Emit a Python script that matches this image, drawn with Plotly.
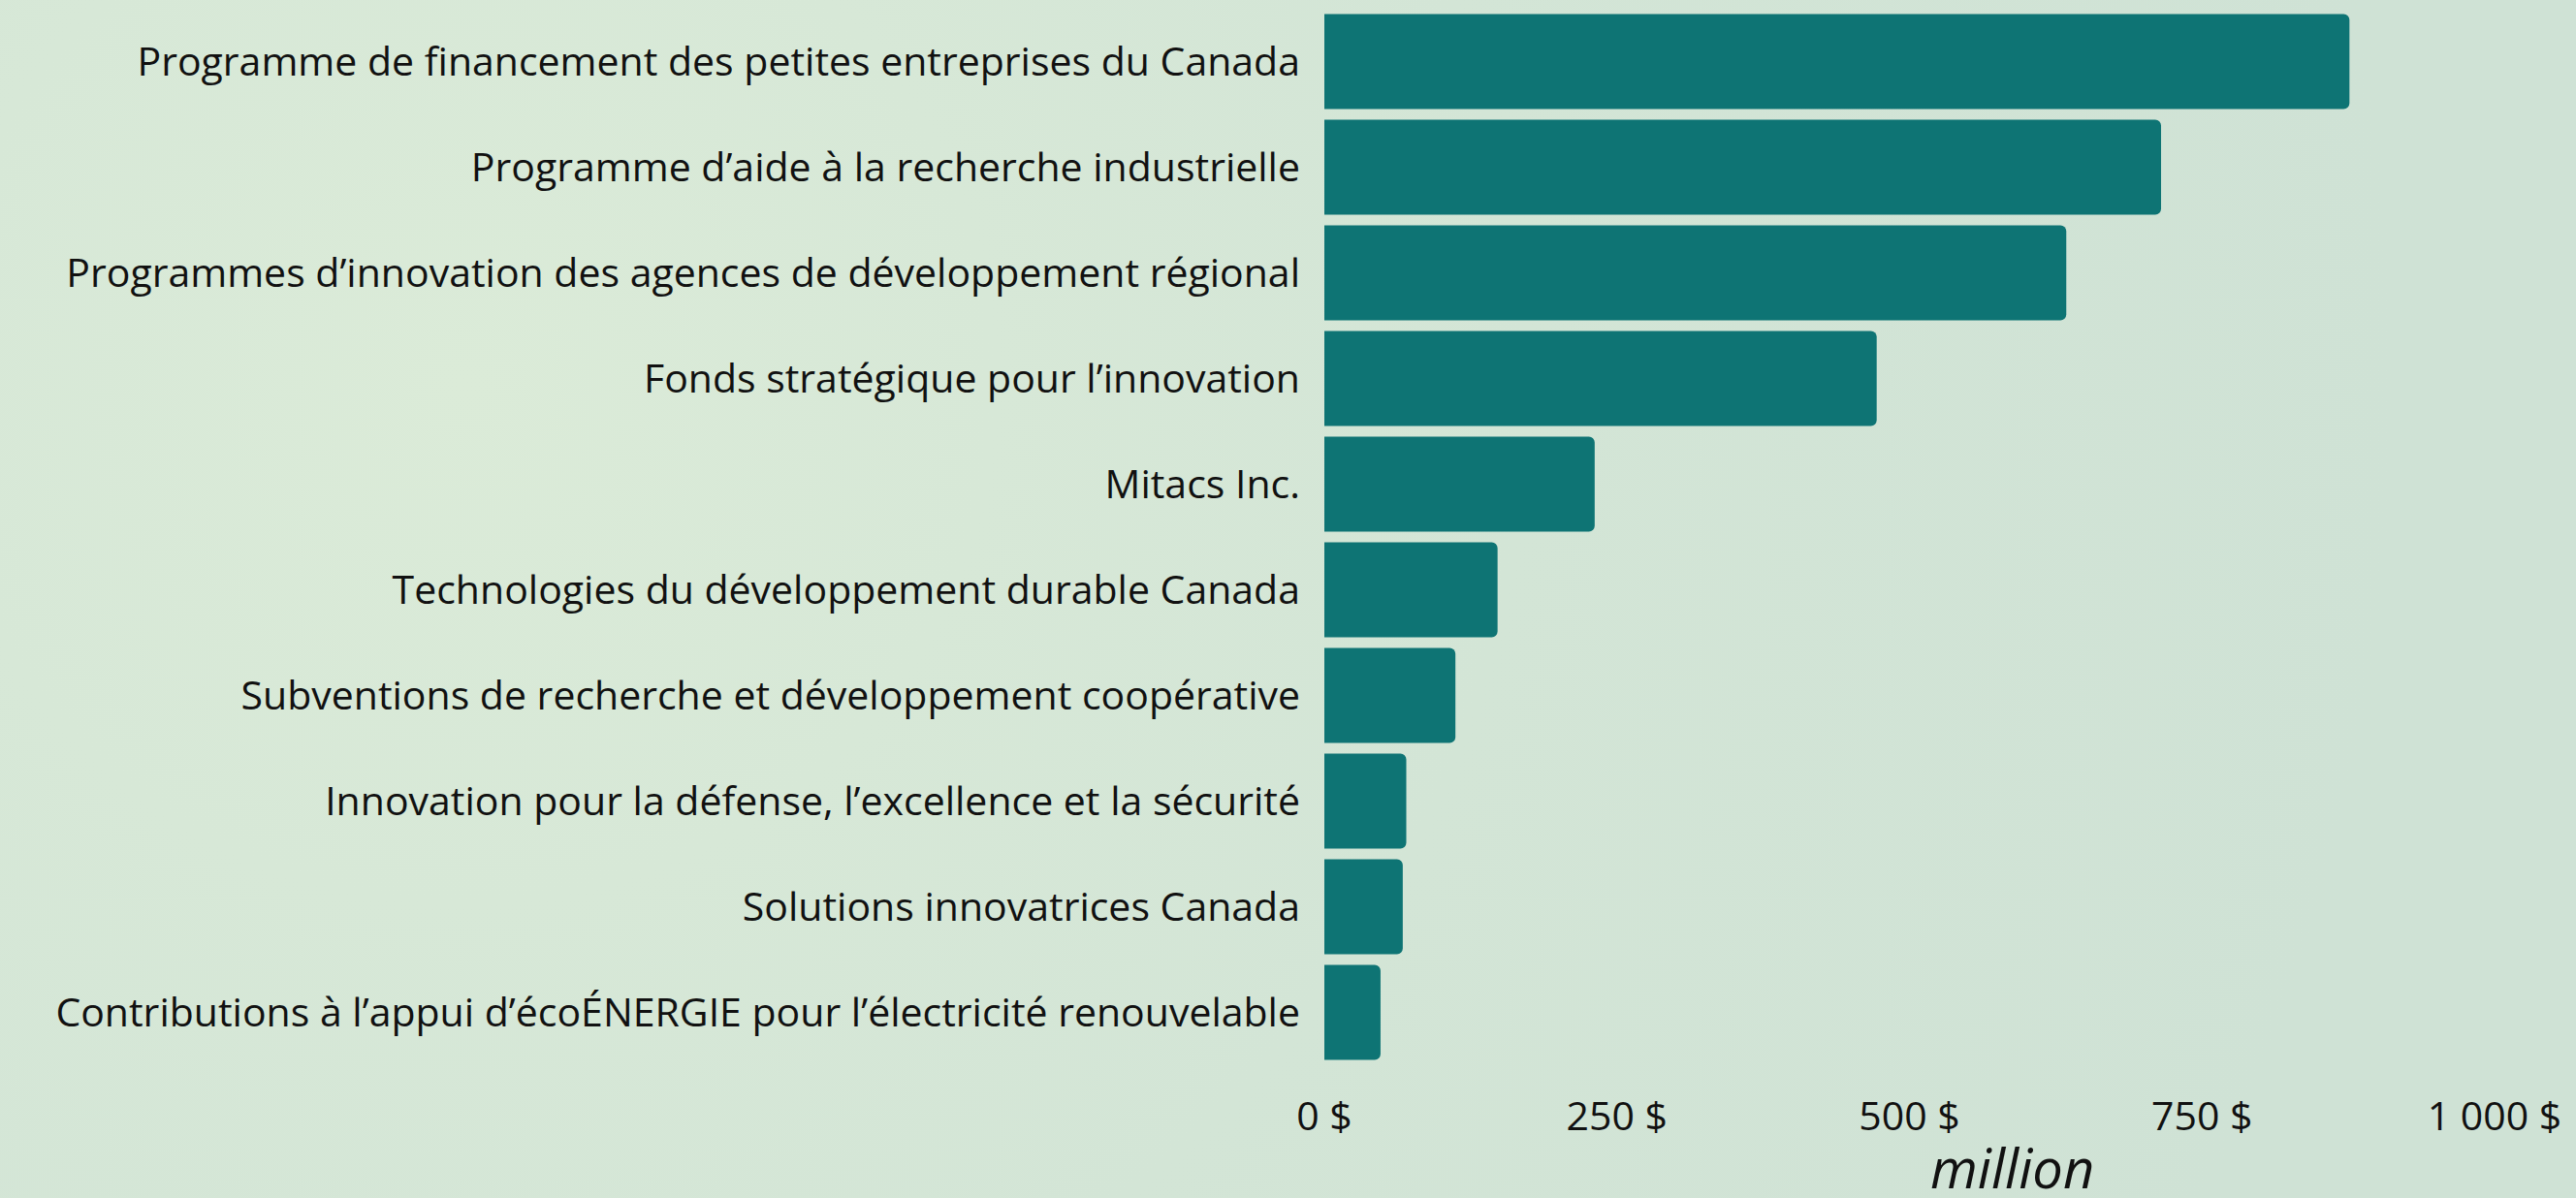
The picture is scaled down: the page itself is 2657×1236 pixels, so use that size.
import base64
import plotly.graph_objects as go

categories = [
    "Programme de financement des petites entreprises du Canada",
    "Programme d’aide à la recherche industrielle",
    "Programmes d’innovation des agences de développement régional",
    "Fonds stratégique pour l’innovation",
    "Mitacs Inc.",
    "Technologies du développement durable Canada",
    "Subventions de recherche et développement coopérative",
    "Innovation pour la défense, l’excellence et la sécurité",
    "Solutions innovatrices Canada",
    "Contributions à l’appui d’écoÉNERGIE pour l’électricité renouvelable",
]
values = [876, 715, 634, 472, 231, 148, 112, 70, 67, 48]
tick_vals = [0, 250, 500, 750, 1000]
tick_text = ["0 $", "250 $", "500 $", "750 $", "1 000 $"]
axis_unit = "million"

W, H = 2657, 1236
FONT = "Open Sans"

# soft background gradient as an inline SVG image
svg = f"""<svg xmlns='http://www.w3.org/2000/svg' width='{W}' height='{H}' preserveAspectRatio='none'>
<defs><radialGradient id='g' cx='0.18' cy='0.32' r='0.75' gradientTransform='translate(0.18 0.32) scale(1 2.1) translate(-0.18 -0.32)'>
<stop offset='0' stop-color='#dbebd8'/><stop offset='0.55' stop-color='#d3e5d6'/><stop offset='1' stop-color='#cfe2d5'/>
</radialGradient></defs><rect width='{W}' height='{H}' fill='url(#g)'/></svg>"""
bg_uri = "data:image/svg+xml;base64," + base64.b64encode(svg.encode()).decode()

fig = go.Figure(
    go.Bar(
        x=values,
        y=categories,
        orientation="h",
        marker=dict(color="#0e7474", line=dict(width=0)),
    )
)

fig.update_layout(
    width=W,
    height=H,
    margin=dict(l=1366, r=84, t=9, b=137, autoexpand=False),
    paper_bgcolor="#d1e4d6",
    plot_bgcolor="rgba(0,0,0,0)",
    bargap=0.1,
    barcornerradius=6,
    showlegend=False,
    font=dict(family=FONT, color="#111111", size=41),
    images=[dict(source=bg_uri, xref="paper", yref="paper", x=-1366 / 1207, y=1 + 9 / 1090,
                 sizex=W / 1207, sizey=H / 1090, xanchor="left", yanchor="top",
                 sizing="stretch", layer="below")],
)
fig.update_yaxes(
    autorange="reversed",
    showgrid=False,
    zeroline=False,
    showline=False,
    ticks="",
    ticklabelstandoff=24,
    tickfont=dict(family=FONT, size=41, color="#111111"),
)
fig.update_xaxes(
    range=[0, 1000],
    tickvals=tick_vals,
    ticktext=tick_text,
    showgrid=False,
    zeroline=False,
    showline=False,
    ticks="",
    ticklabelstandoff=25,
    tickfont=dict(family=FONT, size=41, color="#111111"),
)
fig.add_annotation(
    text=f"<i>{axis_unit}</i>",
    xref="x",
    yref="paper",
    x=588,
    y=0,
    yshift=-105,
    showarrow=False,
    font=dict(family=FONT, size=56, color="#111111"),
    yanchor="middle",
    xanchor="center",
)

fig.write_html(
    "out.html",
    config={"displayModeBar": False},
    post_script="document.body.style.margin='0';document.body.style.background='#d1e4d6';",
)
